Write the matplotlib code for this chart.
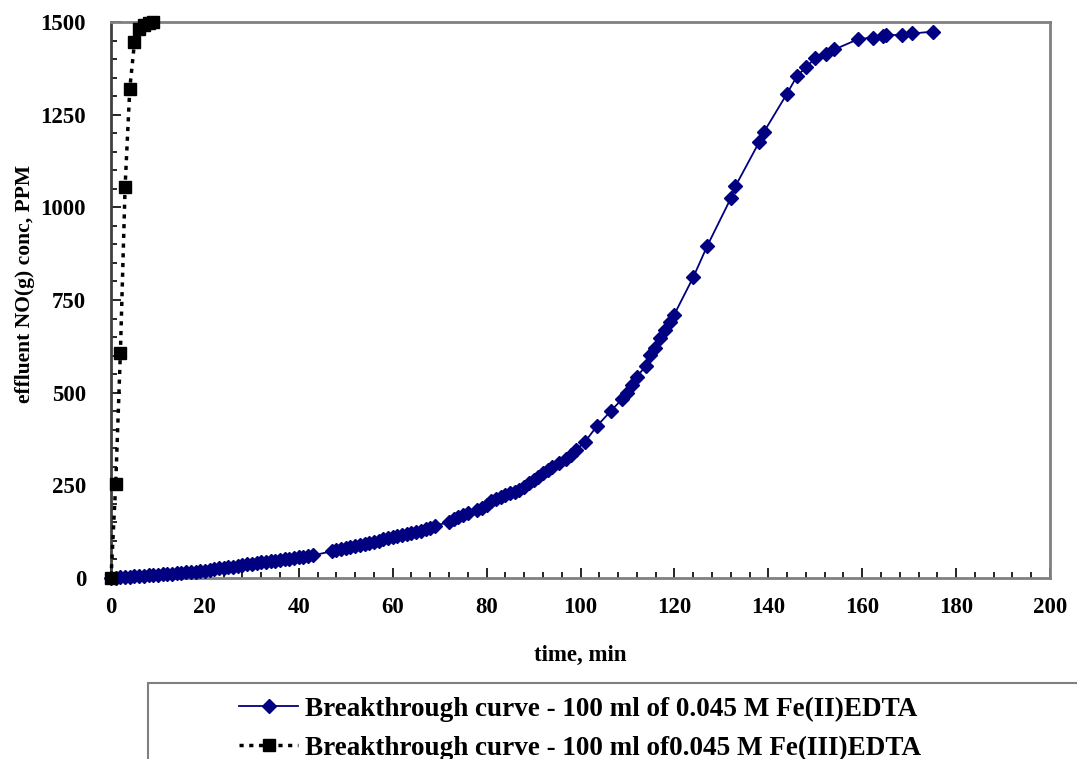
import matplotlib.pyplot as plt
from matplotlib.patches import Rectangle
from matplotlib.ticker import MultipleLocator

plt.rcParams['font.family'] = ['Liberation Serif', 'DejaVu Serif']
plt.rcParams['font.weight'] = 'bold'

# Fe(II)EDTA breakthrough curve
t_fe2 = [0, 1, 2, 3, 4, 5, 6, 7, 8, 9, 10, 11, 12, 13, 14, 15, 16, 17, 18, 19,
         20, 21, 22, 23, 24, 25, 26, 27, 28, 29, 30, 31, 32, 33, 34, 35, 36, 37,
         38, 39, 40, 41, 42, 43,
         47, 48, 49, 50, 51, 52, 53, 54, 55, 56, 57, 58, 59, 60, 61, 62, 63, 64,
         65, 66, 67, 68, 69,
         72, 73, 74, 75, 76,
         78, 79, 80, 81, 82, 83, 84, 85, 86, 87, 88, 89, 90, 91, 92, 93, 94,
         95.5, 97, 98, 99, 101, 103.5, 106.5, 108.8, 109.8, 110.9, 112, 113.9,
         114.8, 115.9, 116.9, 118, 119.1, 119.9,
         124, 127, 132, 133, 138.1, 139.1, 144, 146.1, 148.1, 150, 152.3, 154.1,
         159.2, 162.2, 164.4, 165.1, 168.4, 170.7, 175]
c_fe2 = [0, 1, 2, 3, 4, 5, 5, 6, 7, 8, 9, 10, 11, 12, 13, 14, 15, 16, 17, 18,
         20, 22, 24, 26, 28, 30, 31, 33, 35, 37, 38, 40, 42, 44, 45, 47, 49, 51,
         52, 54, 56, 58, 59, 61,
         72, 75, 78, 80, 83, 86, 89, 92, 95, 98, 101, 104, 107, 110, 113, 116,
         119, 122, 125, 128, 132, 136, 140,
         152, 158, 164, 170, 175,
         183, 190, 198, 207, 214, 219, 224, 229, 233, 238, 246, 255, 264, 272,
         282, 292, 300,
         309, 320, 333, 345, 368, 410, 451, 482, 498, 521, 543, 572,
         602, 620, 647, 669, 691, 709,
         811, 896, 1024, 1057, 1177, 1204, 1307, 1354, 1379, 1402, 1415, 1426,
         1454, 1458, 1463, 1465, 1465, 1469, 1474]

# Fe(III)EDTA breakthrough curve
t_fe3 = [0, 1, 2, 3, 4, 5, 6, 7, 8, 9]
c_fe3 = [0, 253, 608, 1055, 1320, 1445, 1480, 1493, 1498, 1500]

label_fe2 = "Breakthrough curve - 100 ml of 0.045 M Fe(II)EDTA"
label_fe3 = "Breakthrough curve - 100 ml of0.045 M Fe(III)EDTA"

fig = plt.figure(figsize=(10.77, 7.59), dpi=100)
ax = fig.add_axes([111 / 1077, 1 - 578 / 759, (1050 - 111) / 1077, (578 - 22) / 759])

l1, = ax.plot(t_fe2, c_fe2, color='#000080', lw=1.3, marker='D', ms=7.5,
              label=label_fe2, clip_on=False, zorder=3)
l2, = ax.plot(t_fe3, c_fe3, color='black', lw=2.5, ls=(0, (1.2, 1.6)),
              marker='s', ms=9, label=label_fe3, clip_on=False, zorder=4)

ax.set_xlim(0, 200)
ax.set_ylim(0, 1500)
ax.xaxis.set_major_locator(MultipleLocator(20))
ax.xaxis.set_minor_locator(MultipleLocator(4))
ax.yaxis.set_major_locator(MultipleLocator(250))
ax.yaxis.set_minor_locator(MultipleLocator(50))
ax.tick_params(which='both', direction='in', labelsize=16.5, width=1.2,
               top=False, right=False)
ax.tick_params(which='major', length=7)
ax.tick_params(axis='x', which='major', pad=14)
ax.tick_params(axis='y', which='major', pad=18)
ax.tick_params(which='minor', length=4)

for side in ['top', 'right', 'bottom']:
    ax.spines[side].set_color('#808080')
    ax.spines[side].set_linewidth(2)
ax.spines['left'].set_color('#404040')
ax.spines['left'].set_linewidth(2)

ax.set_xlabel("time, min", fontsize=16.5, fontweight='bold')
ax.set_ylabel("effluent NO(g) conc, PPM", fontsize=15.5, fontweight='bold')
ax.xaxis.set_label_coords(0.5, -0.1385)
ax.yaxis.set_label_coords(-0.092, 0.529)
ax.xaxis.label.set_va('center')
ax.yaxis.label.set_va('center')

# legend box, cut off by the figure edge like the original
fig.patches.append(Rectangle((148 / 1077, 0 - 40 / 759), 1000 / 1077,
                             (759 - 683 + 40) / 759, transform=fig.transFigure,
                             fill=False, edgecolor='#808080', lw=1.5))
leg = fig.legend(handles=[l1, l2], loc='upper left',
                 bbox_to_anchor=(228 / 1077, 1 - 686 / 759), frameon=False,
                 prop={'size': 19.5, 'weight': 'bold'}, handlelength=2.2,
                 handletextpad=0.25, labelspacing=0.5, borderaxespad=0)

fig.savefig("out.png", dpi=100)
